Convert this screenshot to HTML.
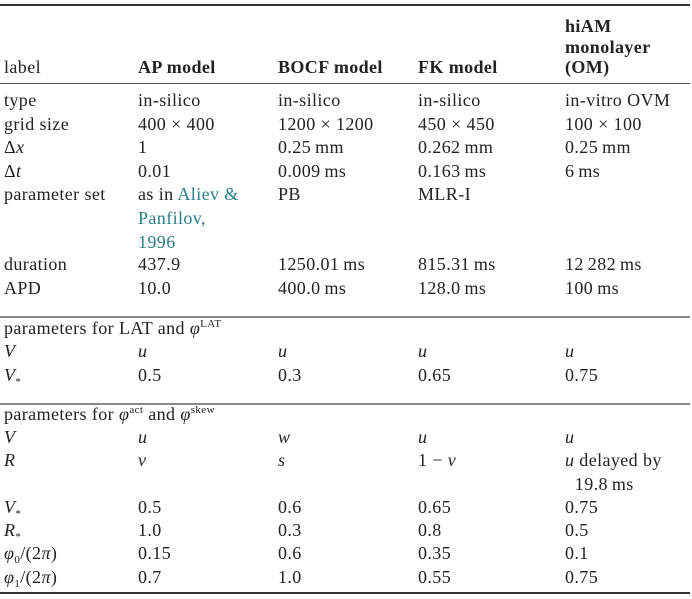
<!DOCTYPE html>
<html><head><meta charset="utf-8"><style>
body{margin:0;background:#fff;width:692px;height:599px;position:relative;overflow:hidden;font-family:"Liberation Serif","DejaVu Serif",serif;font-size:18px;color:#222;letter-spacing:0.4px}
.t{position:absolute;line-height:24px;white-space:nowrap}
.b{font-weight:bold}
.i{font-style:italic}
.ln{position:absolute;left:0;width:690px}
a{color:#2a7f86;text-decoration:none}
sup{font-size:11px;line-height:0;vertical-align:7px}
sub{font-size:11px;line-height:0;vertical-align:-4px}
</style></head><body>
<div class="ln" style="top:4px;height:1.5px;background:#333"></div>
<div class="ln" style="top:83px;height:1px;background:#555"></div>
<div class="ln" style="top:316px;height:1.5px;background:#888"></div>
<div class="ln" style="top:403px;height:1.5px;background:#888"></div>
<div class="ln" style="top:592px;height:1.5px;background:#333"></div>

<div class="t" style="left:4px;top:55px">label</div>
<div class="t b" style="left:138px;top:55px">AP model</div>
<div class="t b" style="left:278px;top:55px">BOCF model</div>
<div class="t b" style="left:418px;top:55px">FK model</div>
<div class="t b" style="left:565px;top:16px;line-height:20.5px">hiAM<br>monolayer<br>(OM)</div>

<div class="t" style="left:4px;top:88px">type</div>
<div class="t" style="left:138px;top:88px">in-silico</div>
<div class="t" style="left:278px;top:88px">in-silico</div>
<div class="t" style="left:418px;top:88px">in-silico</div>
<div class="t" style="left:565px;top:88px">in-vitro OVM</div>

<div class="t" style="left:4px;top:112px">grid size</div>
<div class="t" style="left:138px;top:112px">400 × 400</div>
<div class="t" style="left:278px;top:112px">1200 × 1200</div>
<div class="t" style="left:418px;top:112px">450 × 450</div>
<div class="t" style="left:565px;top:112px">100 × 100</div>

<div class="t" style="left:4px;top:135px">Δ<span class="i">x</span></div>
<div class="t" style="left:138px;top:135px">1</div>
<div class="t" style="left:278px;top:135px">0.25&thinsp;mm</div>
<div class="t" style="left:418px;top:135px">0.262&thinsp;mm</div>
<div class="t" style="left:565px;top:135px">0.25&thinsp;mm</div>

<div class="t" style="left:4px;top:159px">Δ<span class="i">t</span></div>
<div class="t" style="left:138px;top:159px">0.01</div>
<div class="t" style="left:278px;top:159px">0.009&thinsp;ms</div>
<div class="t" style="left:418px;top:159px">0.163&thinsp;ms</div>
<div class="t" style="left:565px;top:159px">6&thinsp;ms</div>

<div class="t" style="left:4px;top:182px">parameter set</div>
<div class="t" style="left:138px;top:182px">as in <a>Aliev &amp;</a><br><a>Panfilov,</a><br><a>1996</a></div>
<div class="t" style="left:278px;top:182px">PB</div>
<div class="t" style="left:418px;top:182px">MLR-I</div>

<div class="t" style="left:4px;top:252px">duration</div>
<div class="t" style="left:138px;top:252px">437.9</div>
<div class="t" style="left:278px;top:252px">1250.01&thinsp;ms</div>
<div class="t" style="left:418px;top:252px">815.31&thinsp;ms</div>
<div class="t" style="left:565px;top:252px">12&thinsp;282&thinsp;ms</div>

<div class="t" style="left:4px;top:276px">APD</div>
<div class="t" style="left:138px;top:276px">10.0</div>
<div class="t" style="left:278px;top:276px">400.0&thinsp;ms</div>
<div class="t" style="left:418px;top:276px">128.0&thinsp;ms</div>
<div class="t" style="left:565px;top:276px">100&thinsp;ms</div>

<div class="t" style="left:4px;top:316px">parameters for LAT and <span class="i">φ</span><sup>LAT</sup></div>
<div class="t i" style="left:4px;top:339px">V</div>
<div class="t i" style="left:138px;top:339px">u</div>
<div class="t i" style="left:278px;top:339px">u</div>
<div class="t i" style="left:418px;top:339px">u</div>
<div class="t i" style="left:565px;top:339px">u</div>
<div class="t" style="left:4px;top:363px"><span class="i">V</span><sub>*</sub></div>
<div class="t" style="left:138px;top:363px">0.5</div>
<div class="t" style="left:278px;top:363px">0.3</div>
<div class="t" style="left:418px;top:363px">0.65</div>
<div class="t" style="left:565px;top:363px">0.75</div>

<div class="t" style="left:4px;top:402px">parameters for <span class="i">φ</span><sup>act</sup> and <span class="i">φ</span><sup>skew</sup></div>
<div class="t i" style="left:4px;top:425px">V</div>
<div class="t i" style="left:138px;top:425px">u</div>
<div class="t i" style="left:278px;top:425px">w</div>
<div class="t i" style="left:418px;top:425px">u</div>
<div class="t i" style="left:565px;top:425px">u</div>
<div class="t i" style="left:4px;top:448px">R</div>
<div class="t i" style="left:138px;top:448px">v</div>
<div class="t i" style="left:278px;top:448px">s</div>
<div class="t" style="left:418px;top:448px">1 − <span class="i">v</span></div>
<div class="t" style="left:565px;top:448px"><span class="i">u</span> delayed by<br>&nbsp;&nbsp;19.8&thinsp;ms</div>
<div class="t" style="left:4px;top:495px"><span class="i">V</span><sub>*</sub></div>
<div class="t" style="left:138px;top:495px">0.5</div>
<div class="t" style="left:278px;top:495px">0.6</div>
<div class="t" style="left:418px;top:495px">0.65</div>
<div class="t" style="left:565px;top:495px">0.75</div>
<div class="t" style="left:4px;top:518px"><span class="i">R</span><sub>*</sub></div>
<div class="t" style="left:138px;top:518px">1.0</div>
<div class="t" style="left:278px;top:518px">0.3</div>
<div class="t" style="left:418px;top:518px">0.8</div>
<div class="t" style="left:565px;top:518px">0.5</div>
<div class="t" style="left:4px;top:541px"><span class="i">φ</span><sub>0</sub>/(2<span class="i">π</span>)</div>
<div class="t" style="left:138px;top:541px">0.15</div>
<div class="t" style="left:278px;top:541px">0.6</div>
<div class="t" style="left:418px;top:541px">0.35</div>
<div class="t" style="left:565px;top:541px">0.1</div>
<div class="t" style="left:4px;top:565px"><span class="i">φ</span><sub>1</sub>/(2<span class="i">π</span>)</div>
<div class="t" style="left:138px;top:565px">0.7</div>
<div class="t" style="left:278px;top:565px">1.0</div>
<div class="t" style="left:418px;top:565px">0.55</div>
<div class="t" style="left:565px;top:565px">0.75</div>
</body></html>
